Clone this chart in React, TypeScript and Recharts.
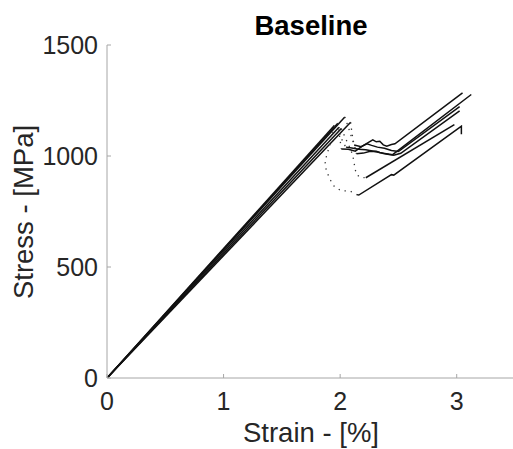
import { LineChart, Line, XAxis, YAxis } from "recharts";

// ── Data: [strain %, stress MPa] ───────────────────────────────────────
// each specimen: linear loading, sparse (dotted) load drop, post-drop branch
const X_TICKS = [0, 1, 2, 3];
const Y_TICKS = [0, 500, 1000, 1500];

const A_LOAD = [[0, 0], [2.04, 1176]];
const A_DROP = [[2.04, 1176], [2.07, 1130], [2.1, 1081], [2.125, 1043], [2.14, 1010]];
const A_POST = [[2.14, 1010], [2.2, 1013], [2.25, 1020], [2.31, 1021], [2.34, 1016], [2.37, 1013], [2.42, 1008], [2.45, 1006], [3.125, 1277]];

const B_LOAD = [[0, 0], [2.09, 1152]];
const B_DROP = [[2.09, 1152], [2.1, 1110], [2.11, 1075], [2.12, 1050]];
const B_POST = [[2.12, 1050], [2.18, 1042], [2.23, 1055], [2.27, 1048], [2.32, 1040], [2.38, 1035], [2.44, 1025], [2.5, 1020], [3.025, 1222]];

const C_LOAD = [[0, 0], [1.98, 1148]];
const C_DROP = [[1.98, 1148], [1.99, 1110], [2.0, 1070], [2.01, 1032]];
const C_POST = [[2.01, 1032], [2.07, 1030], [2.13, 1022], [2.19, 1044], [2.24, 1060], [2.28, 1073], [2.31, 1064], [2.34, 1066], [2.37, 1050], [2.4, 1044], [2.44, 1052], [2.47, 1055], [3.05, 1284]];

const D_LOAD = [[0, 0], [1.95, 1137]];
const D_DROP = [[1.95, 1137], [1.93, 1085], [1.9, 1030], [1.87, 976], [1.88, 938], [1.91, 897], [1.95, 863], [2.01, 843], [2.08, 843], [2.14, 828]];
const D_POST = [[2.14, 826], [2.16, 824], [2.44, 916], [2.46, 914], [3.02, 1127], [3.04, 1134], [3.04, 1098]];

const E_LOAD = [[0, 0], [2.01, 1124]];
const E_DROP = [[2.01, 1124], [2.05, 1075], [2.09, 1030], [2.11, 998], [2.13, 938], [2.14, 916], [2.18, 903], [2.21, 903]];
const E_POST = [[2.22, 902], [2.98, 1141]];

const F_LOAD = [[0, 0], [1.99, 1130]];
const F_DROP = [[1.99, 1130], [2.0, 1095], [2.025, 1060], [2.05, 1040]];
const F_POST = [[2.05, 1040], [2.1, 1036], [2.16, 1030], [2.22, 1028], [2.3, 1020], [2.38, 1010], [2.46, 1004], [2.52, 1012], [3.025, 1203]];

const SOLID = [A_LOAD, B_LOAD, C_LOAD, D_LOAD, E_LOAD, F_LOAD, A_POST, B_POST, C_POST, D_POST, E_POST, F_POST];
const DOTTED = [A_DROP, B_DROP, C_DROP, D_DROP, E_DROP, F_DROP];

const toPts = (arr: number[][]) => arr.map(([x, y]) => ({ x, y }));

const FONT = '"Liberation Sans", Arial, Helvetica, sans-serif';
const TXT = "#262626";
const AX = "#a6a6a6";

export default function App() {
  return (
    <div style={{ position: "absolute", left: 0, top: 0, width: 513, height: 449, overflow: "hidden", background: "#fff" }}>
      <LineChart width={520} height={449} margin={{ top: 45, right: 5, bottom: 0, left: 0 }} style={{ fontFamily: FONT }}>
        <XAxis
          type="number" dataKey="x" domain={[0, 3.5]} ticks={X_TICKS} allowDataOverflow
          height={71} tickSize={-4} tickMargin={18}
          axisLine={{ stroke: AX }} tickLine={{ stroke: AX }}
          tick={{ fontSize: 25, fill: TXT, fontFamily: FONT }}
          label={{ value: "Strain - [%]", position: "insideBottom", offset: 7, fontSize: 27.5, fill: TXT, fontFamily: FONT }}
        />
        <YAxis
          type="number" dataKey="y" domain={[0, 1500]} ticks={Y_TICKS} allowDataOverflow
          width={107} tickSize={-4} tickMargin={13}
          axisLine={{ stroke: AX }} tickLine={{ stroke: AX }}
          tick={{ fontSize: 25, fill: TXT, fontFamily: FONT }}
          label={{
            content: () => (
              <text transform="translate(33,212) rotate(-90)" textAnchor="middle" fontSize={27.5} fill={TXT} fontFamily={FONT}>
                Stress - [MPa]
              </text>
            ),
          }}
        />
        {SOLID.map((s, i) => (
          <Line key={`s${i}`} data={toPts(s)} dataKey="y" type="linear" stroke="#111" strokeWidth={1.5}
            dot={false} activeDot={false} isAnimationActive={false} />
        ))}
        {DOTTED.map((s, i) => (
          <Line key={`d${i}`} data={toPts(s)} dataKey="y" type="linear" stroke="#333" strokeWidth={1.3}
            strokeDasharray="1.3 5" dot={false} activeDot={false} isAnimationActive={false} />
        ))}
        <text x={311} y={35} textAnchor="middle" fontSize={27.5} fontWeight="bold" fill="#000" fontFamily={FONT}>
          Baseline
        </text>
      </LineChart>
    </div>
  );
}
